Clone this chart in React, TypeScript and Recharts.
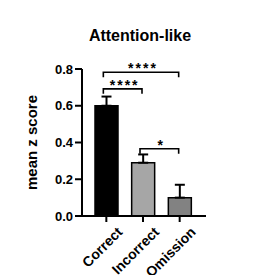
import React from "react";
import {
  Bar, BarChart, Cell, ErrorBar, ReferenceLine, XAxis, YAxis,
} from "recharts";

const categories = ["Correct", "Incorrect", "Omission"];
const means = [0.6, 0.29, 0.1];
const sems = [0.05, 0.045, 0.07];
const barColors = ["#000000", "#a6a6a6", "#828282"];
const yTicks = [0, 0.2, 0.4, 0.6, 0.8];

// significance brackets: [from, to, height, stars]
const bracketFrom = ["Correct", "Correct", "Incorrect"];
const bracketTo = ["Omission", "Incorrect", "Omission"];
const bracketY = [0.782, 0.692, 0.366];
const bracketStars = ["****", "****", "*"];

const data = categories.map((name, i) => ({
  name,
  mean: means[i],
  err: [0, sems[i]],
}));

const FONT = '"Liberation Sans", Arial, Helvetica, sans-serif';

function BracketShape(props: any) {
  const { x1, y1, x2, y2 } = props;
  if ([x1, y1, x2, y2].some((v) => typeof v !== "number" || isNaN(v))) return null;
  const drop = 5;
  // GraphPad starts the brackets a little left of the bar centre
  const a = x1 - 3;
  const b = x2 - 1;
  return (
    <path
      d={`M${a},${y1 + drop} L${a},${y1} L${b},${y2} L${b},${y2 + drop}`}
      fill="none"
      stroke="#000"
      strokeWidth={1.6}
    />
  );
}

function XTick(props: any) {
  const { x, y, payload } = props;
  return (
    <g transform={`translate(${x + 17},${y + 9})`}>
      <text
        transform="rotate(-45)"
        textAnchor="end"
        fontFamily={FONT}
        fontWeight="bold"
        fontSize={14}
        fill="#000"
      >
        {payload.value}
      </text>
    </g>
  );
}

export default function App() {
  return (
    <div style={{ position: "absolute", left: 0, top: 0, width: 254, height: 275, background: "#fff" }}>
      <svg width={254} height={60} style={{ position: "absolute", left: 0, top: 0 }}>
        <text x={140} y={41} textAnchor="middle" fontFamily={FONT} fontWeight="bold" fontSize={16} fill="#000">
          Attention-like
        </text>
      </svg>
      <BarChart
        width={254}
        height={275}
        data={data}
        margin={{ top: 69, right: 48, bottom: 0, left: 0 }}
        barCategoryGap={7}
      >
        <XAxis
          dataKey="name"
          height={59}
          padding={{ left: 6, right: 8 }}
          axisLine={{ stroke: "#000", strokeWidth: 2 }}
          tickLine={{ stroke: "#000", strokeWidth: 2 }}
          tickSize={6}
          interval={0}
          tick={<XTick />}
        />
        <YAxis
          width={82}
          domain={[0, 0.8]}
          ticks={yTicks}
          interval={0}
          tickFormatter={(v: number) => v.toFixed(1)}
          axisLine={{ stroke: "#000", strokeWidth: 2 }}
          tickLine={{ stroke: "#000", strokeWidth: 2 }}
          tickSize={7}
          tickMargin={2}
          tick={{ fill: "#000", fontSize: 13, fontWeight: "bold", fontFamily: FONT }}
          label={{
            value: "mean z score",
            angle: -90,
            position: "insideLeft",
            offset: 32,
            style: { textAnchor: "middle", fill: "#000", fontSize: 15, fontWeight: "bold", fontFamily: FONT },
          }}
        />
        <Bar dataKey="mean" barSize={23} stroke="#000" strokeWidth={1.5} isAnimationActive={false}>
          {data.map((d, i) => (
            <Cell key={d.name} fill={barColors[i]} />
          ))}
          <ErrorBar dataKey="err" width={5} stroke="#000" strokeWidth={2} direction="y" isAnimationActive={false} />
        </Bar>
        {bracketY.map((yv, i) => (
          <ReferenceLine
            key={i}
            segment={[{ x: bracketFrom[i], y: yv }, { x: bracketTo[i], y: yv }]}
            shape={<BracketShape />}
            ifOverflow="visible"
            label={{
              value: bracketStars[i],
              position: "top",
              offset: -1,
              style: { fill: "#000", fontSize: 14, fontWeight: "bold", fontFamily: FONT, letterSpacing: 2 },
            }}
          />
        ))}
      </BarChart>
    </div>
  );
}
